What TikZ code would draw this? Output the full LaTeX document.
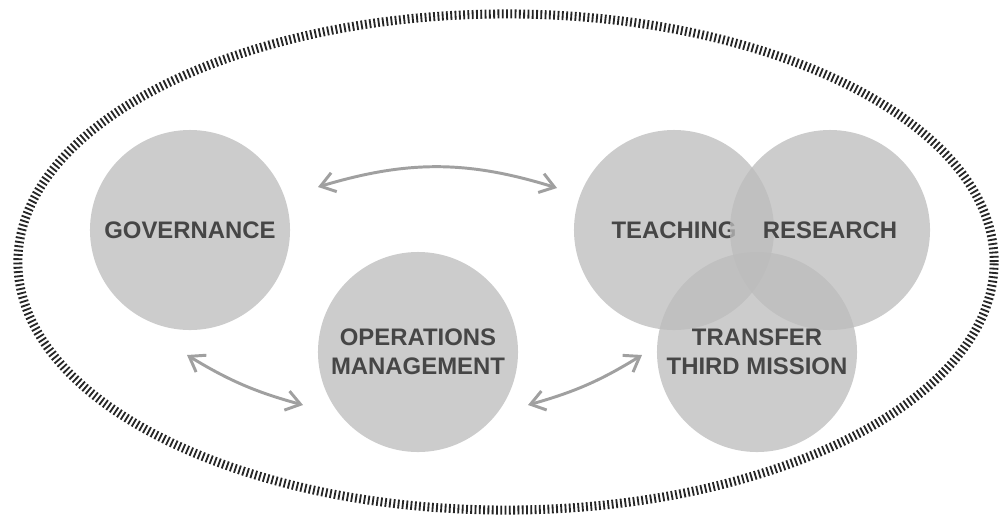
\documentclass[tikz,border=0pt]{standalone}
\usepackage{fontspec}
\setmainfont{Liberation Sans}
\usetikzlibrary{arrows.meta,calc}

\definecolor{discgray}{RGB}{188,188,188}
\definecolor{labelgray}{RGB}{70,70,70}
\definecolor{linkgray}{RGB}{160,160,160}
\def\px{0.025cm}

\begin{document}
\begin{tikzpicture}[x=\px,y=\px]
    \tikzstyle{disc}=[circle,fill=discgray,fill opacity=0.76,text opacity=1,minimum size=5cm,inner sep=0pt,
        text=labelgray,align=center,font=\bfseries\fontsize{17}{20.6}\selectfont]
    \tikzstyle{link}=[{Straight Barb[length=10pt,width=14pt]}-{Straight Barb[length=10pt,width=14pt]},draw=linkgray,line width=2.1pt]
    \tikzstyle{rim}=[draw=black!85,line width=6.4pt,dash pattern=on 1.3pt off 1.75pt]

    \useasboundingbox (0,0) rectangle (999,-522);

    %%%%%%%%%%%%%%%%%%%%%%%%%%%%%%%%%%%%%%%%%%%%
    %%% DRAW THE FRAME
    %%%%%%%%%%%%%%%%%%%%%%%%%%%%%%%%%%%%%%%%%%%%
    \draw[rim] (506,-262) ellipse [x radius=12.2cm, y radius=6.2cm];

    %%%%%%%%%%%%%%%%%%%%%%%%%%%%%%%%%%%%%%%%%%%%
    %%% DRAW THE NODES
    %%%%%%%%%%%%%%%%%%%%%%%%%%%%%%%%%%%%%%%%%%%%
    \node[disc] (gov) at (190,-230) {GOVERNANCE};
    \node[disc] (ops) at (418,-352) {OPERATIONS\\MANAGEMENT};

    \node[disc] (teach) at (674,-230) {TEACHING};
    \node[disc] (res) at (830,-230) {RESEARCH};
    \node[disc] (trans) at (757,-352) {TRANSFER\\THIRD MISSION};

    % free ends of the arrows, next to the circles
    \coordinate (gov-a) at ($(gov)+(128,43)$);
    \coordinate (gov-b) at ($(gov)+(-3,-125)$);
    \coordinate (ops-a) at ($(ops)+(-115,-53)$);
    \coordinate (ops-b) at ($(ops)+(110,-53)$);
    \coordinate (teach-a) at ($(teach)+(-117,42)$);
    \coordinate (trans-a) at ($(trans)+(-115,-3)$);

    %%%%%%%%%%%%%%%%%%%%%%%%%%%%%%%%%%%%%%%%%%%%
    %%% DRAW THE PATHS
    %%%%%%%%%%%%%%%%%%%%%%%%%%%%%%%%%%%%%%%%%%%%
    \draw[link] (gov-a) to[bend left=17] (teach-a);
    \draw[link] (gov-b) to[bend right=8] (ops-a);
    \draw[link] (ops-b) to[bend right=8] (trans-a);
\end{tikzpicture}
\end{document}
